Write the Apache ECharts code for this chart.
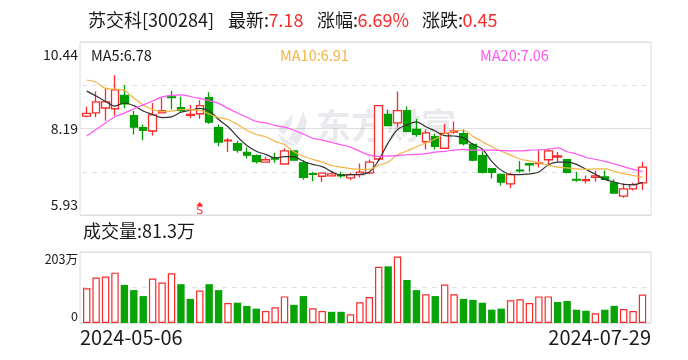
<!DOCTYPE html>
<html><head><meta charset="utf-8">
<style>html,body{margin:0;padding:0;background:#fff}#c{width:688px;height:360px}</style>
<script src="https://cdn.jsdelivr.net/npm/echarts@6/dist/echarts.min.js"></script>
</head><body><div id="c"></div>
<script>
const dates=['05-06','05-07','05-08','05-09','05-10','05-13','05-14','05-15','05-16','05-17','05-20','05-21','05-22','05-23','05-24','05-27','05-28','05-29','05-30','05-31','06-03','06-04','06-05','06-06','06-07','06-11','06-12','06-13','06-14','06-17','06-18','06-19','06-20','06-21','06-24','06-25','06-26','06-27','06-28','07-01','07-02','07-03','07-04','07-05','07-08','07-09','07-10','07-11','07-12','07-15','07-16','07-17','07-18','07-19','07-22','07-23','07-24','07-25','07-26','07-29'];
// open, close, low, high
const candles=[[8.51,8.58,8.48,8.75],[8.59,8.88,8.48,9.15],[8.72,8.88,8.39,9.25],[8.70,9.19,8.52,9.57],[9.05,8.83,8.71,9.31],[8.52,8.22,8.03,8.64],[8.21,8.14,7.88,8.29],[8.12,8.54,8.00,8.85],[8.59,8.65,8.58,8.98],[9.01,8.99,8.68,9.17],
[8.73,8.66,8.59,9.01],[8.53,8.55,8.45,8.80],[8.57,8.78,8.44,8.92],[8.99,8.35,8.31,9.13],[8.21,7.83,7.72,8.29],[7.86,7.88,7.57,7.94],[7.79,7.62,7.55,7.86],[7.56,7.49,7.40,7.69],[7.48,7.32,7.27,7.51],[7.31,7.37,7.31,7.45],
[7.42,7.39,7.29,7.55],[7.26,7.60,7.25,7.67],[7.60,7.36,7.36,7.60],[7.29,6.91,6.85,7.36],[7.01,6.99,6.81,7.05],[6.94,7.02,6.80,7.03],[6.95,7.00,6.93,7.07],[6.98,6.95,6.89,7.06],[6.90,6.98,6.84,7.03],[6.98,7.05,6.91,7.27],
[7.03,7.31,6.99,7.38],[7.39,8.78,7.33,8.78],[8.55,8.26,8.25,8.68],[8.33,8.65,8.21,9.15],[8.65,8.11,8.09,8.76],[8.16,8.03,7.97,8.44],[7.84,8.07,7.64,8.16],[7.97,7.72,7.64,8.05],[7.67,8.06,7.65,8.31],[8.09,8.12,8.05,8.37],
[8.05,7.79,7.74,8.16],[7.77,7.36,7.33,7.81],[7.48,7.04,7.01,7.59],[7.14,7.04,6.88,7.14],[6.99,6.79,6.70,7.01],[6.74,6.98,6.63,7.03],[7.10,7.08,7.03,7.34],[7.27,7.24,7.06,7.29],[7.27,7.29,7.17,7.62],[7.37,7.60,7.24,7.65],
[7.44,7.47,7.32,7.57],[7.37,7.04,7.01,7.37],[6.86,6.84,6.80,7.06],[6.83,6.85,6.75,6.96],[6.91,6.95,6.80,7.08],[6.92,6.86,6.84,7.09],[6.77,6.50,6.49,6.86],[6.42,6.61,6.38,6.75],[6.61,6.72,6.57,6.77],[6.77,7.18,6.58,7.32]];
const ma5=[9.16,9.03,8.89,8.77,8.85,8.78,8.64,8.55,8.47,8.49,8.61,8.66,8.71,8.64,8.42,8.23,7.97,7.74,7.59,7.51,7.42,7.45,7.45,7.33,7.25,7.19,7.06,6.97,6.98,6.99,7.05,7.36,7.81,8.16,8.28,8.36,8.23,8.12,8.00,7.99,7.94,7.77,7.65,7.33,7.10,6.99,6.98,7.00,7.05,7.24,7.31,7.31,7.25,7.12,6.99,6.86,6.79,6.73,6.72,6.78];
const ma10=[9.45,9.39,9.23,9.21,9.18,8.98,8.80,8.68,8.63,8.64,8.68,8.67,8.66,8.56,8.47,8.42,8.29,8.14,8.03,7.97,7.85,7.76,7.58,7.46,7.38,7.31,7.22,7.18,7.14,7.12,7.12,7.23,7.31,7.50,7.60,7.71,7.81,7.91,8.05,8.12,8.14,7.98,7.84,7.71,7.59,7.49,7.39,7.34,7.29,7.23,7.18,7.16,7.13,7.12,7.13,7.13,7.07,7.01,6.96,6.91];
const ma20=[7.99,8.16,8.33,8.49,8.59,8.70,8.80,8.90,9.01,9.05,9.06,9.02,8.97,8.91,8.84,8.71,8.59,8.48,8.37,8.33,8.26,8.22,8.14,8.04,7.93,7.88,7.82,7.76,7.70,7.59,7.49,7.46,7.47,7.48,7.50,7.51,7.53,7.57,7.59,7.62,7.64,7.62,7.62,7.62,7.61,7.60,7.60,7.62,7.63,7.65,7.68,7.58,7.52,7.43,7.38,7.33,7.26,7.19,7.12,7.06];
const volumes=[99,130,133,144,109,94,77,127,116,142,111,69,93,111,94,57,58,49,41,34,45,76,52,77,42,34,32,32,25,59,74,161,162,190,123,94,82,77,110,82,69,66,58,38,41,65,68,57,76,76,60,63,38,35,28,38,49,40,34,81.3];
// 1 = red (hollow), 0 = green (filled)
const volumeUp=[1,1,1,1,0,0,0,1,1,1,0,0,1,0,0,1,0,0,0,1,1,1,0,0,1,1,0,0,1,1,1,1,0,1,0,0,1,0,1,1,0,0,0,0,0,1,1,1,1,1,0,0,0,0,1,0,0,1,1,1];
const priceTicks=[5.93,8.19,10.44];
const volumeTicks=[0,203];
const dateLabels=['2024-05-06','2024-07-29'];
const signalIndex=[12];
const signalPrice=[6.22];

const RED='#f92a2a',GREEN='#009f00',FRAME='#dcdce2',DASH='#e0e0e0',TXT='#1a1a1a';
const FONT='"Noto Sans CJK SC","Noto Sans",sans-serif';
const t=(x,y,s,fill,size)=>({type:'text',left:x,top:y-(size||18)*0.62,silent:true,z:5,style:{text:s,fill:fill||TXT,font:(size||18)+'px '+FONT}});
const frameY=(g,n)=>({type:'value',gridIndex:g,position:'right',min:0,max:n,interval:1,axisLine:{show:false},axisTick:{show:false},axisLabel:{show:false},splitLine:{show:true,lineStyle:{color:FRAME,width:1}}});
const hiddenX=(g,d)=>({type:'category',gridIndex:g,data:d,axisLine:{show:false},axisTick:{show:false},axisLabel:{show:false},splitLine:{show:false}});
const labelStyle={color:TXT,fontFamily:FONT,fontSize:14,margin:4};
const maLine=(name,data,color)=>({name,type:'line',xAxisIndex:1,yAxisIndex:2,data,smooth:0.35,showSymbol:false,symbol:'none',z:4,lineStyle:{color,width:1.2}});

const chart=echarts.init(document.getElementById('c'),null,{renderer:'canvas'});
chart.setOption({
 animation:false,backgroundColor:'#fff',
 grid:[
  {left:80,top:42,width:571,height:173,show:true,borderColor:FRAME,borderWidth:1,backgroundColor:'transparent'},
  {left:82,top:42,width:565.2,height:173},
  {left:80,top:252,width:571,height:71,show:true,borderColor:FRAME,borderWidth:1,backgroundColor:'transparent'},
  {left:82,top:252,width:565.2,height:71}
 ],
 xAxis:[
  hiddenX(0,['a','b']),hiddenX(1,dates),
  {type:'category',gridIndex:2,data:dateLabels,boundaryGap:false,axisLine:{show:false},axisTick:{show:false},splitLine:{show:false},
   axisLabel:{show:true,interval:0,color:TXT,fontFamily:FONT,fontSize:20,margin:4,alignMinLabel:'left',alignMaxLabel:'right'}},
  hiddenX(3,dates)
 ],
 yAxis:[
  frameY(0,2),
  Object.assign(frameY(1,4),{splitLine:{show:true,lineStyle:{color:DASH,type:[5,5],width:1}}}),
  {type:'value',gridIndex:1,position:'left',min:priceTicks[0],max:priceTicks[2],axisLine:{show:false},axisTick:{show:false},splitLine:{show:false},
   axisLabel:Object.assign({},labelStyle,{customValues:priceTicks,
    formatter:v=>{const s=v.toFixed(2);return v===priceTicks[2]?'{top|'+s+'}':v===priceTicks[0]?'{bot|'+s+'}':s;},
    rich:{top:{padding:[25,0,0,0],fontSize:14,color:TXT,fontFamily:FONT},bot:{padding:[0,0,20,0],fontSize:14,color:TXT,fontFamily:FONT}}})},
  frameY(2,1),
  {type:'value',gridIndex:3,position:'left',min:volumeTicks[0],max:volumeTicks[1],axisLine:{show:false},axisTick:{show:false},splitLine:{show:false},
   axisLabel:Object.assign({},labelStyle,{customValues:volumeTicks,fontSize:12.5,
    formatter:v=>v===volumeTicks[1]?'{top|'+v+'万}':'{bot|'+v+'}',
    rich:{top:{padding:[14,0,0,0],fontSize:12.5,color:TXT,fontFamily:FONT},bot:{padding:[0,0,14,0],fontSize:12.5,color:TXT,fontFamily:FONT}}})},
  Object.assign(frameY(3,2),{splitLine:{show:true,lineStyle:{color:DASH,type:[5,5],width:1}}})
 ],
 series:[
  {name:'K',type:'candlestick',xAxisIndex:1,yAxisIndex:2,data:candles,barWidth:8,z:2,
   itemStyle:{color:'#fff',color0:GREEN,borderColor:RED,borderColor0:GREEN,borderWidth:1.3}},
  maLine('MA5',ma5,'#333333'),maLine('MA10',ma10,'#f5b344'),maLine('MA20',ma20,'#ff55f0'),
  {name:'S',type:'scatter',xAxisIndex:1,yAxisIndex:2,data:signalIndex.map((i,k)=>[i,signalPrice[k]]),symbol:'triangle',symbolSize:[7,4],z:5,
   itemStyle:{color:'#f00'},label:{show:true,position:'bottom',distance:0,formatter:'S',color:'#f00',fontSize:11,fontFamily:'"DejaVu Sans"'}},
  {name:'VOL',type:'bar',xAxisIndex:3,yAxisIndex:4,barWidth:7.4,z:2,
   data:volumes.map((v,i)=>({value:v,itemStyle:volumeUp[i]?{color:'#fff',borderColor:RED,borderWidth:1.2}:{color:'#07a307',borderWidth:0}}))}
 ],
 graphic:[
  {type:'polygon',silent:true,z:1,shape:{points:[[303,111],[307,122],[304,134],[297,145],[288,139],[296,128],[300,120]]},style:{fill:'rgba(120,125,140,0.16)'}},
  {type:'polygon',silent:true,z:1,shape:{points:[[293,114],[291,125],[284,135],[278,130],[285,122]]},style:{fill:'rgba(120,125,140,0.16)'}},
  {type:'polygon',silent:true,z:1,shape:{points:[[277,133],[295,145],[284,145]]},style:{fill:'rgba(120,125,140,0.16)'}},
  {type:'text',left:316,top:108,silent:true,z:1,style:{text:'东方财富',fill:'rgba(120,125,140,0.16)',font:'bold 35px '+FONT}},
  t(88,22,'苏交科[300284]'),t(228,22,'最新:'),t(268.5,22,'7.18',RED),t(317,22,'涨幅:'),t(357.5,22,'6.69%',RED),t(422,22,'涨跌:'),t(462.5,22,'0.45',RED),
  t(91,57,'MA5:6.78',TXT,14.5),t(280,57,'MA10:6.91','#f5b344',14.5),t(480,57,'MA20:7.06','#ff55f0',14.5),
  t(83,233,'成交量:81.3万',TXT,18)
 ]
});
</script></body></html>
